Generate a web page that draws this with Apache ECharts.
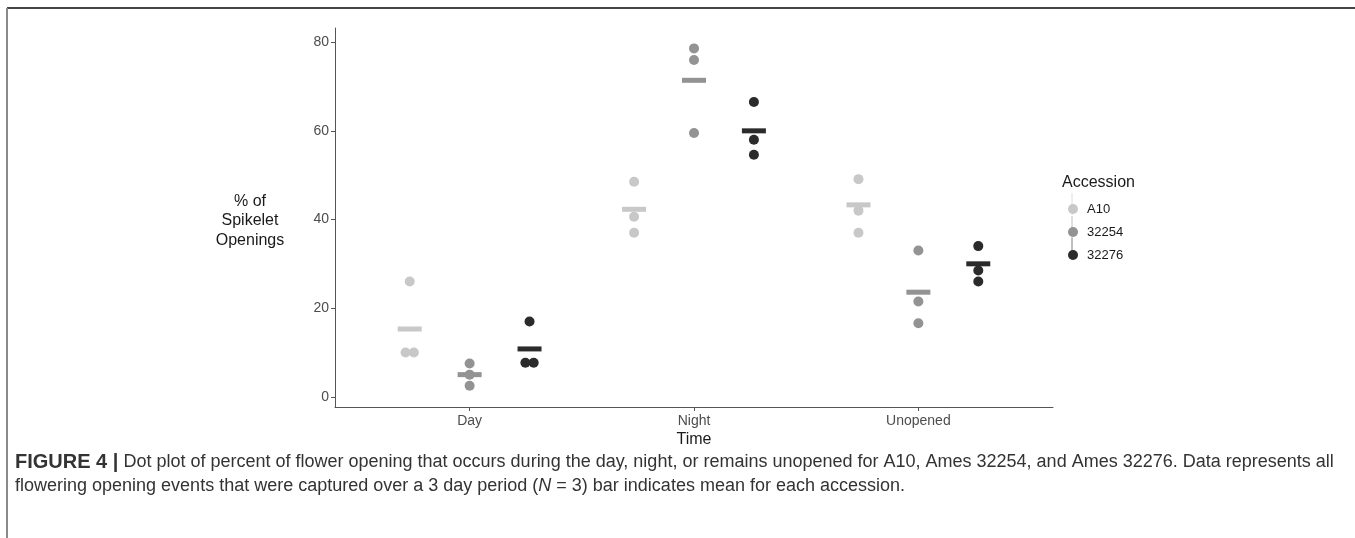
<!DOCTYPE html>
<html>
<head>
<meta charset="utf-8">
<script src="https://cdn.jsdelivr.net/npm/echarts@6/dist/echarts.min.js"></script>
<style>
html,body{margin:0;padding:0;background:#fff;}
#chart{width:1355px;height:538px;}
</style>
</head>
<body>
<div id="chart"></div>
<script>
// ---- data ----
const categories = ['Day', 'Night', 'Unopened'];
const accessions = ['A10', '32254', '32276'];
const valuesA10   = [[26.0, 10.0, 10.0], [48.5, 40.6, 37.0], [49.1, 42.0, 37.0]];
const values32254 = [[7.5, 5.0, 2.5], [78.6, 76.0, 59.5], [33.0, 21.5, 16.6]];
const values32276 = [[17.0, 7.7, 7.7], [66.5, 58.0, 54.6], [34.0, 28.5, 26.0]];
const meansA10   = [15.3, 42.3, 43.3];
const means32254 = [5.0, 71.4, 23.6];
const means32276 = [10.8, 60.0, 30.0];
const yTicks = [0, 20, 40, 60, 80];

// ---- styling ----
const colors = ['#c8c8c8', '#939393', '#2b2b2b'];
const dodge = [-0.267, 0, 0.267];
const sideStep = 0.037;
const FONT = 'Liberation Sans, Arial, sans-serif';

const allValues = [valuesA10, values32254, values32276];
const allMeans = [meansA10, means32254, means32276];

function pointData(a) {
  const out = [];
  allValues[a].forEach((vals, c) => {
    const counts = {};
    vals.forEach(v => { counts[v] = (counts[v] || 0) + 1; });
    const seen = {};
    vals.forEach(v => {
      const n = counts[v];
      const i = seen[v] || 0;
      seen[v] = i + 1;
      const off = (i - (n - 1) / 2) * sideStep;
      out.push([c + 1 + dodge[a] + off, v]);
    });
  });
  return out;
}
function meanData(a) {
  return allMeans[a].map((m, c) => [c + 1 + dodge[a], m]);
}

const series = [];
accessions.forEach((name, a) => {
  series.push({
    name: name, type: 'scatter', symbol: 'circle', symbolSize: 10,
    itemStyle: { color: colors[a], opacity: 1 },
    data: pointData(a), z: 2, silent: true
  });
});
accessions.forEach((name, a) => {
  series.push({
    name: name, type: 'scatter', symbol: 'rect', symbolSize: [24, 5],
    itemStyle: { color: colors[a], opacity: 1 },
    data: meanData(a), z: 3, silent: true
  });
});

const chart = echarts.init(document.getElementById('chart'), null, { renderer: 'canvas' });
const legendY = [204, 227, 249];
const graphics = [
  { type: 'line', shape: { x1: 7, y1: 8, x2: 1355, y2: 8 }, style: { stroke: '#444', lineWidth: 2 } },
  { type: 'line', shape: { x1: 7, y1: 8, x2: 7, y2: 538 }, style: { stroke: '#8a8a8a', lineWidth: 2 } },
  { type: 'text', x: 250, y: 221, style: { text: '% of\nSpikelet\nOpenings', font: '16px ' + FONT, fill: '#1a1a1a', align: 'center', verticalAlign: 'middle', lineHeight: 19.5 } },
  { type: 'text', x: 1062, y: 183, style: { text: 'Accession', font: '16px ' + FONT, fill: '#1a1a1a', verticalAlign: 'middle' } },
  { type: 'text', x: 694, y: 440, style: { text: 'Time', font: '16px ' + FONT, fill: '#1a1a1a', align: 'center', verticalAlign: 'middle' } },
  {
    type: 'text', x: 15, y: 462,
    style: {
      text: '{b|FIGURE 4 |} Dot plot of percent of flower opening that occurs during the day, night, or remains unopened for A10, Ames 32254, and Ames 32276. Data represents all',
      font: '18px ' + FONT, fill: '#333', verticalAlign: 'middle',
      rich: { b: { fontWeight: 'bold', fontSize: 20, fontFamily: FONT, fill: '#333' } }
    }
  },
  {
    type: 'text', x: 15, y: 486,
    style: {
      text: 'flowering opening events that were captured over a 3 day period ({i|N} = 3) bar indicates mean for each accession.',
      font: '18px ' + FONT, fill: '#333', verticalAlign: 'middle',
      rich: { i: { fontStyle: 'italic', fontSize: 18, fontFamily: FONT, fill: '#333' } }
    }
  }
];
legendY.forEach((y, a) => {
  graphics.push({ type: 'line', z: -1, shape: { x1: 1072, y1: y - 11, x2: 1072, y2: y + 11 }, style: { stroke: colors[a], lineWidth: 1, opacity: 0.6 } });
});

chart.setOption({
  backgroundColor: '#fff',
  animation: false,
  textStyle: { fontFamily: FONT },
  grid: { left: 335, right: 302, top: 28, bottom: 131, containLabel: false },
  xAxis: {
    type: 'value', min: 0.4, max: 3.6,
    splitLine: { show: false },
    axisLine: { show: true, onZero: false, lineStyle: { color: '#555', width: 1 } },
    axisTick: { show: true, customValues: [1, 2, 3], length: 4, lineStyle: { color: '#555' } },
    axisLabel: { customValues: [1, 2, 3], formatter: v => categories[Math.round(v) - 1], color: '#4d4d4d', fontSize: 14, margin: 7, fontFamily: FONT }
  },
  yAxis: {
    type: 'value', min: -2.3, max: 83.2,
    splitLine: { show: false },
    axisLine: { show: true, onZero: false, lineStyle: { color: '#555', width: 1 } },
    axisTick: { show: true, customValues: yTicks, length: 4, lineStyle: { color: '#555' } },
    axisLabel: { customValues: yTicks, color: '#4d4d4d', fontSize: 14, margin: 6, fontFamily: FONT }
  },
  legend: {
    orient: 'vertical', left: 1063, top: 197,
    itemWidth: 18, itemHeight: 10, itemGap: 9,
    icon: 'circle',
    data: accessions,
    textStyle: { fontSize: 13, color: '#1a1a1a', fontFamily: FONT, lineHeight: 14 },
    selectedMode: false
  },
  series: series,
  graphic: graphics
});
</script>
</body>
</html>
